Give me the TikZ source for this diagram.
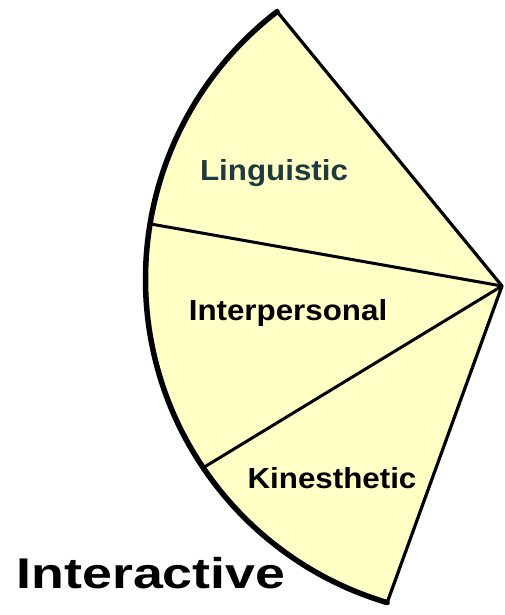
\documentclass[tikz,border=0pt]{standalone}
\usepackage{fontspec}
\setmainfont{Liberation Sans}
\usepackage{xcolor}
\usepackage{tikz}
\usetikzlibrary{calc}
\definecolor{wedgefill}{HTML}{FFFFC6}
\definecolor{slatetext}{HTML}{1C3A40}
\tikzstyle{wedge} = [fill=wedgefill, draw=none]
\tikzstyle{rim} = [line width=5.5pt, line cap=round]
\tikzstyle{edge} = [line width=3.2pt, line join=round]
\tikzstyle{divider} = [line width=3pt]
\tikzstyle{label} = [font=\bfseries\fontsize{29}{29}\selectfont, anchor=base, inner sep=0pt, xscale=1.08]
\tikzstyle{title} = [font=\bfseries\fontsize{43}{43}\selectfont, anchor=base, inner sep=0pt, xscale=1.25]

\begin{document}
\begin{tikzpicture}[x=1pt, y=1pt]
			\useasboundingbox (0,0) rectangle (504,615);
			\coordinate (ctr) at (483,336);
			\coordinate (apex) at (502,329);
			\coordinate (top) at ($(ctr)+(127.6:337.5)$);
			\coordinate (cutA) at ($(ctr)+(170.6:337.5)$);
			\coordinate (cutB) at ($(ctr)+(214.0:337.5)$);
			\coordinate (bottom) at ($(ctr)+(253.5:337.5)$);
			
			\fill [wedge] (apex) -- (top) arc[start angle=127.6, end angle=253.5, radius=337.5] -- cycle;
			\draw [divider] (apex) -- (cutA);
			\draw [divider] (apex) -- (cutB);
			\draw [edge] (top) -- (apex) -- (bottom);
			\draw [rim] (top) arc[start angle=127.6, end angle=253.5, radius=337.5];
			
			\node (ling) [label, text=slatetext] at (274,434) {Linguistic};
			\node (inter) [label] at (288,294) {Interpersonal};
			\node (kine) [label] at (332,126) {Kinesthetic};
			\node (interactive) [title] at (151,26) {Interactive};
		\end{tikzpicture}
\end{document}
